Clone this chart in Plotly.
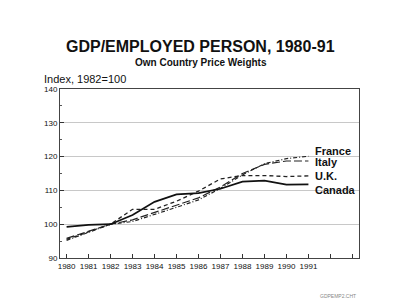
import plotly.graph_objects as go

years = [1980, 1981, 1982, 1983, 1984, 1985, 1986, 1987, 1988, 1989, 1990, 1991]
canada = [99.2, 99.8, 100.0, 102.7, 106.6, 108.8, 109.2, 110.5, 112.6, 112.9, 111.7, 111.8]
uk = [95.5, 97.8, 100.0, 104.4, 104.4, 106.8, 109.8, 113.4, 114.4, 114.4, 114.1, 114.3]
italy = [95.8, 97.8, 100.0, 101.3, 103.5, 105.5, 107.8, 111.0, 115.0, 117.7, 118.7, 118.7]
france = [95.2, 97.6, 100.0, 100.8, 102.8, 105.0, 107.2, 110.6, 114.6, 117.9, 119.4, 120.1]
labels = ["France", "Italy", "U.K.", "Canada"]
label_y = [121.7, 118.4, 114.2, 110.1]
tick_years = [1980, 1981, 1982, 1983, 1984, 1985, 1986, 1987, 1988, 1989, 1990, 1991, 1992, 1993]
tick_text = ["1980", "1981", "1982", "1983", "1984", "1985", "1986", "1987", "1988", "1989", "1990", "1991", "", ""]

FONT = "Liberation Sans, Arial, sans-serif"

fig = go.Figure()
fig.add_trace(go.Scatter(x=years, y=france, mode="lines",
                         line=dict(color="#222", width=1.2, dash="4px,2px,1px,2px")))
fig.add_trace(go.Scatter(x=years, y=italy, mode="lines",
                         line=dict(color="#222", width=1.2, dash="8px,3px")))
fig.add_trace(go.Scatter(x=years, y=uk, mode="lines",
                         line=dict(color="#222", width=1.3, dash="4px,3px")))
fig.add_trace(go.Scatter(x=years, y=canada, mode="lines",
                         line=dict(color="#111", width=1.7)))

annotations = []
for t, yv in zip(labels, label_y):
    annotations.append(dict(x=1991.2, y=yv, xref="x", yref="y", text="<b>%s</b>" % t,
                            showarrow=False, xanchor="left", yanchor="middle",
                            font=dict(family=FONT, size=11, color="#111")))

annotations += [
    dict(x=0.47, y=1.254, xref="paper", yref="paper", text="<b>GDP/EMPLOYED PERSON, 1980-91</b>",
         showarrow=False, xanchor="center", yanchor="middle",
         font=dict(family=FONT, size=16, color="#111")),
    dict(x=0.47, y=1.154, xref="paper", yref="paper", text="<b>Own Country Price Weights</b>",
         showarrow=False, xanchor="center", yanchor="middle",
         font=dict(family=FONT, size=10, color="#111")),
    dict(x=-0.06, y=1.059, xref="paper", yref="paper", text="Index, 1982=100",
         showarrow=False, xanchor="left", yanchor="middle",
         font=dict(family=FONT, size=11, color="#111")),
    dict(x=0.93, y=-0.225, xref="paper", yref="paper", text="GDPEMP2.CHT",
         showarrow=False, xanchor="center", yanchor="middle",
         font=dict(family=FONT, size=5, color="#888")),
]

fig.update_layout(
    width=400, height=302,
    margin=dict(l=60, r=41, t=89, b=44),
    paper_bgcolor="white", plot_bgcolor="white",
    showlegend=False,
    annotations=annotations,
    xaxis=dict(range=[1979.7, 1993.3], tickmode="array", tickvals=tick_years, ticktext=tick_text,
               ticks="inside", ticklen=4, tickcolor="#333", showgrid=False, zeroline=False,
               showline=True, linecolor="#444", linewidth=1, mirror=True,
               tickfont=dict(family=FONT, size=8, color="#111")),
    yaxis=dict(range=[90, 140], tickmode="array", tickvals=[90, 100, 110, 120, 130, 140],
               ticks="inside", ticklen=4, tickcolor="#333", showgrid=True, gridcolor="#c8c8c8",
               gridwidth=1, zeroline=False, showline=True, linecolor="#444", linewidth=1, mirror=True,
               minor=dict(dtick=5, ticks="inside", ticklen=2, tickcolor="#555", showgrid=False),
               tickfont=dict(family=FONT, size=8, color="#111")),
)

fig.write_html("out.html")
